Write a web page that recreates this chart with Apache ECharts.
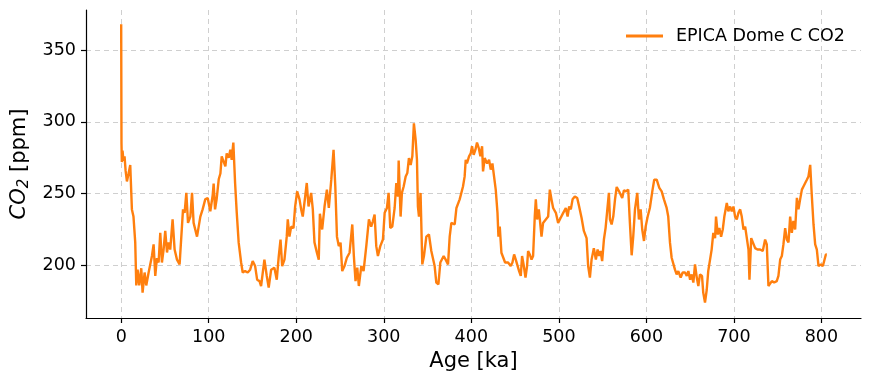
<!DOCTYPE html>
<html><head><meta charset="utf-8">
<script src="https://cdn.jsdelivr.net/npm/echarts@6/dist/echarts.min.js"></script>
<style>html,body{margin:0;padding:0;background:#fff}#c{width:871px;height:382px}</style>
</head><body><div id="c"></div>
<script>
const ages = [-0.05,0.3,0.7,1.5,2.5,3.8,5,6.5,8.4,10.3,12.2,14,16,17.2,18.7,20.6,22.9,24.4,26.7,28.6,31.3,33.6,35.1,37,38.9,40.8,42.7,44.6,46.5,48.4,50.3,52.3,54.1,56,58.7,61,63.7,66.7,68.6,70.6,72.4,74.4,76.3,79,80.9,82.7,86.6,90.4,93,96,98.8,101.8,104.5,105.6,107.2,109,111.4,113.3,114.8,116.7,119,120.5,122.8,124.7,126.2,128.1,130.1,132,134.2,137,138.8,141.5,144.5,147.3,150.2,153,155.3,158,159.8,163.6,166.3,168.5,171.3,175,177.7,180,182,183.9,186.5,189.1,190.3,192.2,194.2,196.8,198.7,201,203.7,205.6,207.4,210.2,212,214,217,218.9,220.8,223.5,225.7,227,229.6,232.3,235,237.2,240,242.6,244.6,246.5,248.6,250.6,252.5,255.1,257.8,260.9,264,265.8,267.7,269.7,271.5,274.3,276.9,280,283,285.6,287.5,289.5,291.4,293.3,296,299,301,303.6,305.5,307.4,309.7,312.4,314.3,316.2,317,319.2,320.7,322.7,325,326.9,328.7,330.7,332.6,334.4,336.4,337.9,339,340.2,342,344,345.9,348.6,351.6,354.3,356.2,358.1,360,362.4,364.6,366,368.4,370.7,373.4,375.3,377.2,381,383,384.8,386.7,388.7,390.5,392.4,393.6,395,397.4,399.3,400.8,402.7,404.7,406.5,408.5,410.4,412.3,413.4,415.3,418,420.3,422.2,424.1,426,427.9,429.9,431,432.5,434.4,436.2,438.6,442,445,447,448.9,450.8,452.7,454.6,456.5,458,460,461.9,463.7,464.9,466.8,468.8,470.6,472.5,473.7,475.2,477.1,478.3,480.2,482,485.1,487.8,489.7,491.6,493.5,496.6,499.2,502,505,508,510,511.8,513.7,515.7,518.3,521,523.2,526,528.6,531.7,533.5,535.5,537.4,540,542.3,544.3,546,547.7,549.5,551.5,553.4,555.3,557.2,558.4,560.3,562.2,564.2,566.1,568.8,570.7,572.4,574.4,576.7,579.3,581.2,583.2,585,587,589.6,591.5,593.5,595.3,597.3,599.2,601.5,604,606.8,609,611.8,614.8,617.5,620.1,623.2,625,627,628.9,630.7,632.7,634.6,636.5,639.2,641.5,644.2,646.2,648,650,651.8,653.7,655.6,657.6,659.4,661.3,663.6,665,667,669,670.7,672.7,674.6,676.5,678.5,679.6,681.6,683.4,685.4,687.3,689.1,691.9,693.7,695.7,697.6,699.5,701.4,703.3,705.2,707.2,709,711,712.9,714.8,716.7,717.8,719.8,721.6,724.3,727,730,733,735.7,737.6,739.5,741.4,743.4,746,749,750.9,752.9,754.8,756.6,758.6,760.5,762.4,764.3,766.2,768,770,772,773.8,775.7,777.7,779.5,781.5,783.4,785.2,787.2,789.1,791,792.9,794.8,796.7,799.4,801.7,803.5,805.1,806.2];
const co2 = [368,285,272,280,273,276,266,258.5,264,270,239,234,216,186,197,186,198,181,195,186,195,202,206.5,214.6,192.6,205,202,222.7,202,211,224,209,216,211,232,211,204,200.7,202,239,236.6,250.5,229.6,234,250.5,229.6,220,234,239,246,247,237.7,249,257,239,246,260,264,276,277,269,278,275,280.6,273.6,285.6,257.4,236.6,215.8,202,195,196,195,197,203,199.5,190,189,185.6,204,192.6,184.5,197,198.4,190,206.5,218,199.5,204,220,232,220,227,226,241,251.6,246,239,234,248,257.4,241,250.5,239,216,209,204,236,225,241,252.8,240,259.7,280.6,255,220,213.4,215.8,196,199.5,205.3,208.8,228.5,206.5,189,198.4,185.6,199.5,196,213.4,232,227,230.7,235.4,213.4,206.5,213.4,218,236.6,240,250.5,226,227,240,257.4,248,273,234,250.5,255,262,264.4,274.8,270,276,299,287.5,273.6,241,234,250.5,200.7,206.5,220,221.5,210,209,199.5,188,186.8,202,202,206.5,204,200.7,220,229.6,228.5,240,239,246,247,255,262,273.6,271,276,278,283,277,280.6,285.6,281.8,276,283,265.5,274.8,271,273.6,266.7,271,270,252.8,236.6,220,227,208.8,210,202,202,199.5,202,207.6,204,205.3,196,192.6,206.5,199.5,191.5,199.5,210,207.6,204,206.5,234,246,232,239,232,220,229.6,232,234,252.8,246,240,236.6,229.6,233,236.6,240,234,241,239,246,248,247,241,233,224,219,199.5,191.5,204,212,204,211,206.5,210,203,218,226,225,250.5,232,228.5,234,246,254.6,251.6,252.8,247,252.3,251.6,252.8,229.6,207,220,239,250.5,232,239,225,217,227,234,240,251.6,259.7,259.7,254,251.6,246,240,234,215.8,205.3,204,197,193.7,196,191.5,195,195,192.6,196,190,193.7,188,200.7,191.5,185.6,193.7,192.6,181,174,183,196,197,211,222.7,219,234,221.5,226,220,225,234,243.5,237.7,241,237.7,241,234,232,236.6,239,234,225,227,226,211,190,219,218,212,211,211,210,218,214.6,185.6,184.5,189,188,189,192.6,204,206.5,214.6,226,218,216,234,222.7,231,225,247,239,246,252.8,255,257.4,259.7,262,270,248,228.5,214.6,211,199.5,200.7,199.5,200.7,207.6,207.6];
const xTicks = [0,100,200,300,400,500,600,700,800];
const yTicks = [200,250,300,350];
const seriesName = 'EPICA Dome C CO2';

const data = ages.map((a,i)=>[a,co2[i]]);
const font = 'DejaVu Sans';
const chart = echarts.init(document.getElementById('c'), null, {renderer:'canvas'});
chart.setOption({
  animation:false,
  grid:{left:86,right:10,top:10,bottom:64,containLabel:false},
  legend:{
    right:21, top:22, icon:'rect', itemWidth:37, itemHeight:3, itemGap:10,
    textStyle:{fontFamily:font,fontSize:17.5,color:'#000',padding:[0,0,0,8]},
    data:[seriesName]
  },
  xAxis:{
    type:'value', min:-40.25, max:845.25,
    name:'Age [ka]', nameLocation:'middle', nameGap:32,
    nameTextStyle:{fontFamily:font,fontSize:21,color:'#000'},
    axisLine:{show:true,onZero:false,lineStyle:{color:'#000',width:1.2}},
    axisTick:{show:true,inside:false,length:5,lineStyle:{color:'#000',width:1.2},customValues:xTicks},
    axisLabel:{fontFamily:font,fontSize:17.5,color:'#000',margin:10,customValues:xTicks},
    splitLine:{show:true,lineStyle:{color:'#cfcfcf',type:[5,4],width:1}}
  },
  yAxis:{
    type:'value', min:163.3, max:378,
    name:'{i|CO}{s|2}{n| [ppm]}', nameLocation:'middle', nameGap:50, nameRotate:90,
    nameTextStyle:{fontFamily:font,fontSize:21,color:'#000',
      rich:{
        i:{fontFamily:font,fontSize:21,fontStyle:'italic',color:'#000'},
        s:{fontFamily:font,fontSize:15,fontStyle:'italic',color:'#000',verticalAlign:'bottom',padding:[9,0,0,0]},
        n:{fontFamily:font,fontSize:21,color:'#000'}
      }},
    axisLine:{show:true,onZero:false,lineStyle:{color:'#000',width:1.2}},
    axisTick:{show:true,inside:false,length:5,lineStyle:{color:'#000',width:1.2},customValues:yTicks},
    axisLabel:{fontFamily:font,fontSize:17.5,color:'#000',margin:10,customValues:yTicks},
    splitLine:{show:true,lineStyle:{color:'#cfcfcf',type:[5,4],width:1}}
  },
  series:[{
    name:seriesName, type:'line', data:data, showSymbol:false, symbol:'none',
    lineStyle:{color:'#ff7f0e',width:2.4}, itemStyle:{color:'#ff7f0e'}, z:3
  }]
});
</script></body></html>
